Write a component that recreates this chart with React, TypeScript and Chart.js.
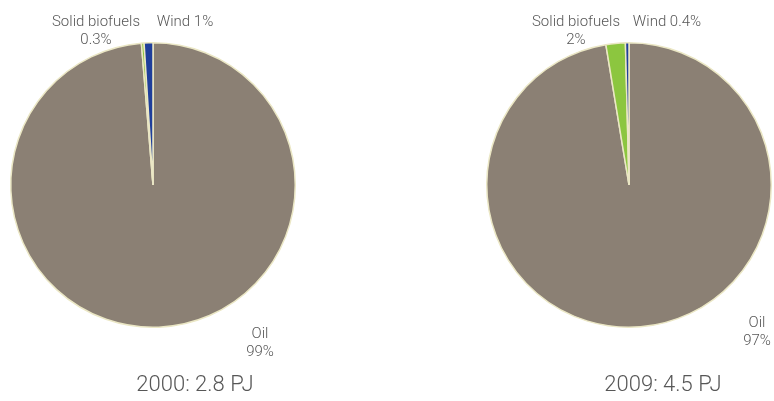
import React, { useEffect, useRef } from "react";
import { Chart, registerables } from "chart.js";

Chart.register(...registerables);

const categories = ["Oil", "Solid biofuels", "Wind"];
const values2000 = [98.7, 0.3, 1.0];
const values2009 = [97.4, 2.2, 0.4];
const labels2000 = [["Oil", "99%"], ["Solid biofuels", "0.3%"], ["Wind 1%"]];
const labels2009 = [["Oil", "97%"], ["Solid biofuels", "2%"], ["Wind 0.4%"]];
const title2000 = "2000: 2.8 PJ";
const title2009 = "2009: 4.5 PJ";

const COLORS = ["#8b8074", "#8cc63f", "#1f3f9b"];
const TEXT = "#575757";
const FONT = "Roboto, 'Noto Sans', sans-serif";

type LabelPos = { x: number; y: number };

function PieChart(props: {
  values: number[];
  labels: string[][];
  title: string;
  labelPos: LabelPos[];
  titleX: number;
  padding: { left: number; right: number; top: number; bottom: number };
}) {
  const ref = useRef<HTMLCanvasElement | null>(null);
  useEffect(() => {
    if (!ref.current) return;
    const textPlugin = {
      id: "texts",
      afterDraw(chart: any) {
        const ctx = chart.ctx;
        ctx.save();
        ctx.fillStyle = TEXT;
        ctx.textAlign = "center";
        ctx.textBaseline = "middle";
        ctx.font = `300 15px ${FONT}`;
        props.labels.forEach((lines, i) => {
          const p = props.labelPos[i];
          lines.forEach((ln, j) => {
            ctx.fillText(ln, p.x, p.y + j * 18);
          });
        });
        ctx.font = `300 22px ${FONT}`;
        ctx.fillText(props.title, props.titleX, 385);
        ctx.restore();
      },
    };
    const chart = new Chart(ref.current, {
      type: "pie",
      data: {
        labels: categories,
        datasets: [
          {
            data: props.values,
            backgroundColor: COLORS,
            borderColor: "#ebe7c5",
            borderWidth: 1.5,
          },
        ],
      },
      options: {
        animation: false,
        responsive: false,
        layout: { padding: props.padding },
        plugins: {
          legend: { display: false },
          tooltip: { enabled: false },
          title: { display: false },
        },
      },
      plugins: [textPlugin],
    });
    return () => chart.destroy();
  }, []);
  return <canvas ref={ref} width={387} height={401} style={{ display: "block", width: 387, height: 401 }} />;
}

export default function App() {
  useEffect(() => {
    document.body.style.margin = "0";
  }, []);
  return (
    <div style={{ display: "flex", width: 774, height: 401, background: "#ffffff" }}>
      <PieChart
        values={values2000}
        labels={labels2000}
        title={title2000}
        titleX={195}
        padding={{ left: 10, right: 91, top: 42, bottom: 73 }}
        labelPos={[
          { x: 260, y: 334 },
          { x: 96, y: 22 },
          { x: 185, y: 22 },
        ]}
      />
      <PieChart
        values={values2009}
        labels={labels2009}
        title={title2009}
        titleX={276}
        padding={{ left: 99, right: 2, top: 42, bottom: 73 }}
        labelPos={[
          { x: 370, y: 323 },
          { x: 189, y: 22 },
          { x: 280, y: 22 },
        ]}
      />
    </div>
  );
}
